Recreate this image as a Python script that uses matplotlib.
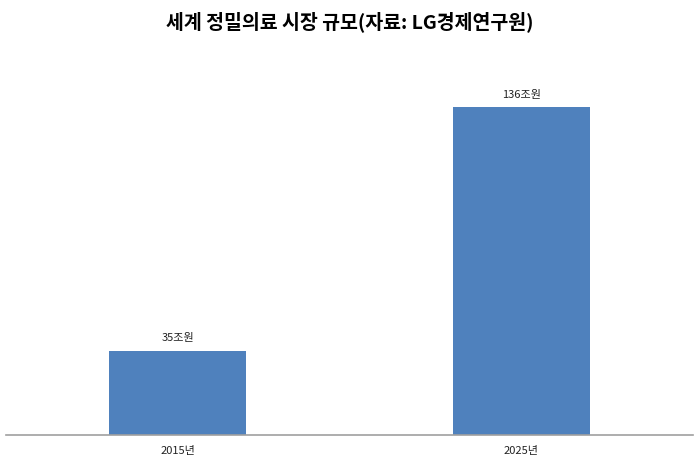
import matplotlib
matplotlib.use("Agg")
from matplotlib import pyplot as plt

plt.rcParams['font.family'] = ['Noto Sans CJK KR', 'DejaVu Sans']

years = ["2015년", "2025년"]
market = [35, 136]
value_labels = ["35조원", "136조원"]
title = "세계 정밀의료 시장 규모(자료: LG경제연구원)"

fig = plt.figure(figsize=(7, 4.62), dpi=100)
ax = fig.add_axes([0.0086, 0.0584, 0.9814, 0.8117])

x = list(range(len(years)))
bars = ax.bar(x, market, width=0.4, color="#4F81BD")
for b, lab in zip(bars, value_labels):
    ax.text(b.get_x() + b.get_width() / 2, b.get_height() + 3, lab,
            ha="center", va="bottom", fontsize=8, color="#222222")

ax.set_xlim(-0.5, 1.5)
ax.set_ylim(0, 155.6)
ax.set_xticks(x)
ax.set_xticklabels(years, fontsize=8, color="#222222")
ax.tick_params(axis="x", length=0, pad=8)
ax.set_yticks([])
for side in ["top", "right", "left"]:
    ax.spines[side].set_visible(False)
ax.spines["bottom"].set_color("#a0a0a0")
ax.spines["bottom"].set_linewidth(1.2)

fig.text(0.5, 0.953, title, ha="center", va="center", fontsize=14, fontweight="bold")

fig.savefig("out.png", dpi=100)
